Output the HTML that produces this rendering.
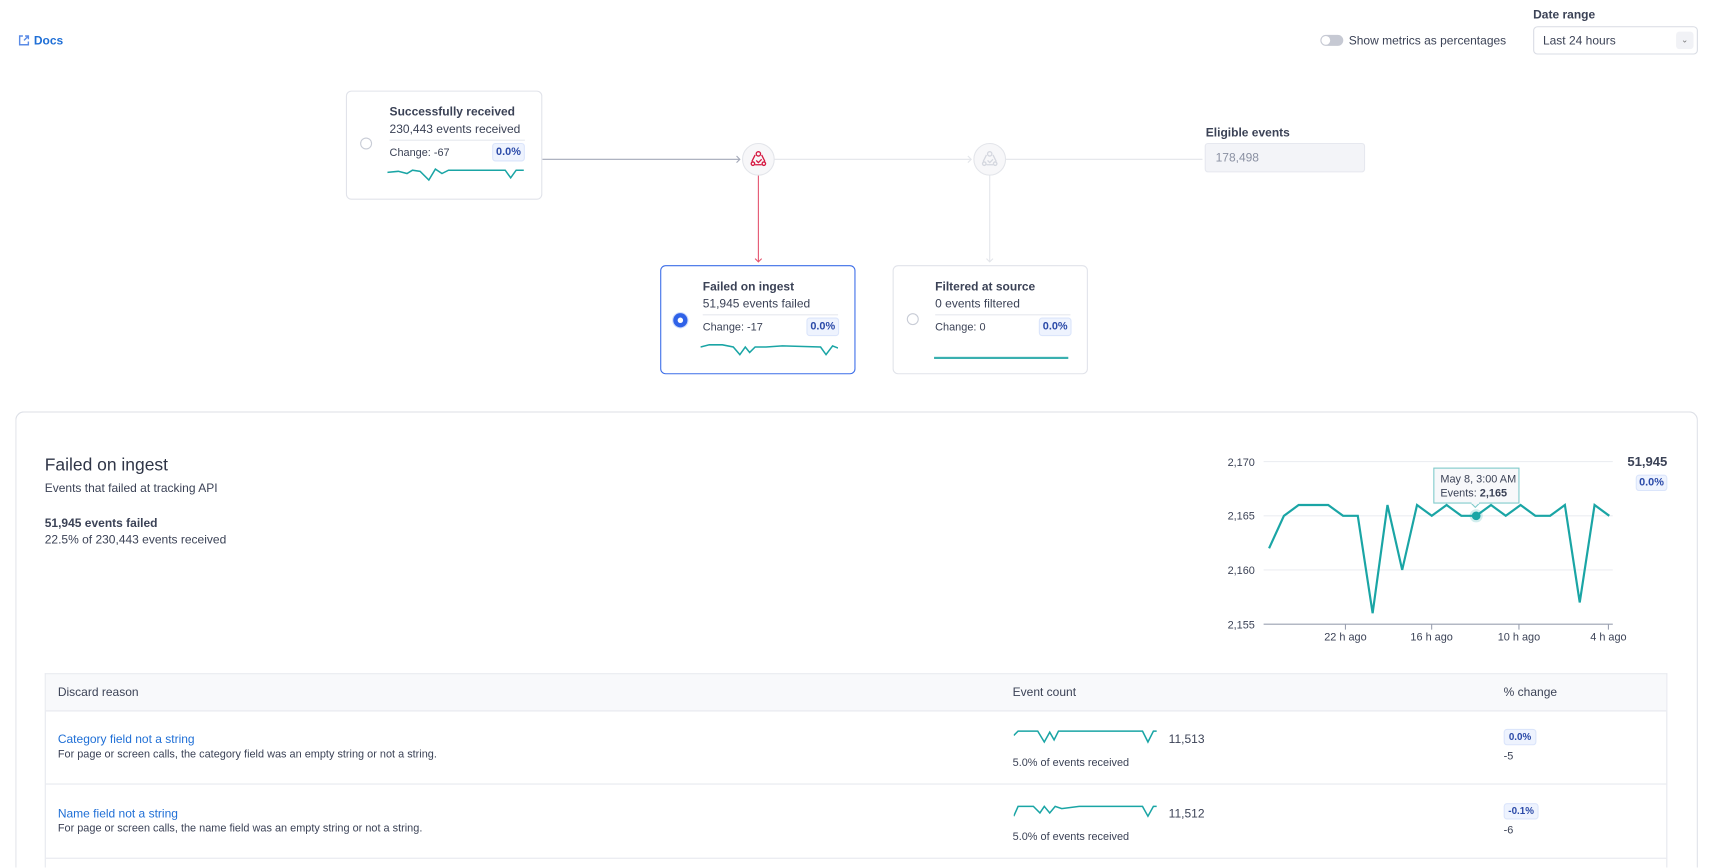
<!DOCTYPE html>
<html><head><meta charset="utf-8"><style>
html,body{margin:0;padding:0;background:#fff;overflow:hidden;width:1711px;height:868px}
#clip{position:relative;width:1711px;height:868px;overflow:hidden}
#w{position:absolute;left:0;top:0;width:1568px;height:795px;overflow:hidden;transform:scale(1.0912);transform-origin:0 0;font-family:"Liberation Sans",sans-serif;color:#3b4256}
.a{position:absolute;white-space:nowrap}
.card{position:absolute;border:1px solid #e1e3ea;border-radius:5px;background:#fff;box-sizing:border-box}
.t{font-size:11px;font-weight:bold;color:#3b4256}
.s{font-size:11px;color:#3b4256}
.badge{position:absolute;border:1px solid #dbe5fb;background:#eef3fe;color:#2b4aa8;border-radius:3px;font-size:10px;font-weight:bold;text-align:center;box-sizing:border-box}
.radio{position:absolute;width:11px;height:11px;border:1px solid #c8ccd6;border-radius:50%;box-sizing:border-box}
</style></head><body><div id="clip"><div id="w">
<svg class="a" style="left:17px;top:32px" width="10" height="10" viewBox="0 0 10 10"><path d="M4 1H1v8h8V6" fill="none" stroke="#5a8be6" stroke-width="1.3"/><path d="M5 5l4-4M6 1h3v3" fill="none" stroke="#5a8be6" stroke-width="1.3"/></svg>
<div class="a" style="left:31px;top:32px;font-size:11px;font-weight:bold;color:#1f6fd6">Docs</div>
<div class="a" style="left:1210px;top:32px;width:21px;height:10px;border-radius:5px;background:#c6c9d3"></div>
<div class="a" style="left:1211px;top:33px;width:8px;height:8px;border-radius:50%;background:#fff"></div>
<div class="a s" style="left:1236px;top:32px">Show metrics as percentages</div>
<div class="a t" style="left:1405px;top:8px">Date range</div>
<div class="a" style="left:1405px;top:24px;width:151px;height:26px;border:1px solid #d9dce4;border-radius:4px;box-sizing:border-box"></div>
<div class="a s" style="left:1414px;top:32px">Last 24 hours</div>
<div class="a" style="left:1536px;top:29px;width:16px;height:16px;background:#f1f2f6;border-radius:3px;font-size:8px;text-align:center;line-height:16px;color:#777">⌄</div>

<svg class="a" style="left:0;top:0" width="1568" height="370">
<line x1="497" y1="146" x2="678" y2="146" stroke="#a3a8b8" stroke-width="1"/>
<path d="M675 143l3 3-3 3" fill="none" stroke="#a3a8b8"/>
<line x1="709" y1="146" x2="890" y2="146" stroke="#e3e5ea"/>
<path d="M887 143l3 3-3 3" fill="none" stroke="#e3e5ea"/>
<line x1="921" y1="146" x2="1102" y2="146" stroke="#e3e5ea"/>
<line x1="695" y1="160" x2="695" y2="240" stroke="#e4536e"/>
<path d="M692 237l3 3 3-3" fill="none" stroke="#e4536e"/>
<line x1="907" y1="160" x2="907" y2="240" stroke="#e3e5ea"/>
<path d="M904 237l3 3 3-3" fill="none" stroke="#e3e5ea"/>
<circle cx="695" cy="146" r="14.5" fill="#f7f7f9" stroke="#e3e5ea"/>
<circle cx="907" cy="146" r="14.5" fill="#f7f7f9" stroke="#e3e5ea"/>
<g fill="none" stroke="#d5163f" stroke-width="1.2"><circle cx="695" cy="141" r="2"/><circle cx="690" cy="150" r="1.6"/><circle cx="700" cy="150" r="1.6"/><path d="M692 142l-3 6M698 142l3 6M692 151h6M693 147l2 2 3-3"/></g>
<g fill="none" stroke="#d4d7df" stroke-width="1.2"><circle cx="907" cy="141" r="2"/><circle cx="902" cy="150" r="1.6"/><circle cx="912" cy="150" r="1.6"/><path d="M904 142l-3 6M910 142l3 6M904 151h6M905 147l2 2 3-3"/></g>
</svg>

<div class="card" style="left:317px;top:83px;width:180px;height:100px"></div>
<div class="radio" style="left:330px;top:126px"></div>
<div class="a t" style="left:357px;top:97px">Successfully received</div>
<div class="a s" style="left:357px;top:113px">230,443 events received</div>
<div class="a" style="left:357px;top:128px;width:124px;border-top:1px solid #e6e8ee"></div>
<div class="a" style="left:357px;top:135px;font-size:10px">Change: -67</div>
<div class="badge" style="left:451px;top:131px;width:30px;height:17px;line-height:15px">0.0%</div>
<svg class="a" style="left:355px;top:150px" width="126" height="18"><polyline points="0,8 10,7 18,9 23,6 30,7 38,15 44,5 50,9 56,6 70,6 108,6 113,13 118,6 125,6" fill="none" stroke="#1aa5a5" stroke-width="1.4"/></svg>

<div class="card" style="left:605px;top:243px;width:179px;height:100px;border-color:#3d6ee8"></div>
<div class="a" style="left:616px;top:286px;width:15px;height:15px;border-radius:50%;background:#cfdcfb"></div>
<div class="a" style="left:617px;top:287px;width:13px;height:13px;border-radius:50%;background:#2f62e8"></div>
<div class="a" style="left:621px;top:291px;width:5px;height:5px;border-radius:50%;background:#fff"></div>
<div class="a t" style="left:644px;top:257px">Failed on ingest</div>
<div class="a s" style="left:644px;top:273px">51,945 events failed</div>
<div class="a" style="left:644px;top:288px;width:124px;border-top:1px solid #e6e8ee"></div>
<div class="a" style="left:644px;top:295px;font-size:10px">Change: -17</div>
<div class="badge" style="left:739px;top:291px;width:30px;height:17px;line-height:15px">0.0%</div>
<svg class="a" style="left:642px;top:312px" width="126" height="16"><polyline points="0,6 8,4 20,4 30,6 36,13 41,6 45,11 50,6 60,6 75,5 110,6 115,13 121,5 126,7" fill="none" stroke="#1aa5a5" stroke-width="1.4"/></svg>

<div class="card" style="left:818px;top:243px;width:179px;height:100px"></div>
<div class="radio" style="left:831px;top:287px"></div>
<div class="a t" style="left:857px;top:257px">Filtered at source</div>
<div class="a s" style="left:857px;top:273px">0 events filtered</div>
<div class="a" style="left:857px;top:288px;width:124px;border-top:1px solid #e6e8ee"></div>
<div class="a" style="left:857px;top:295px;font-size:10px">Change: 0</div>
<div class="badge" style="left:952px;top:291px;width:30px;height:17px;line-height:15px">0.0%</div>
<div class="a" style="left:856px;top:327px;width:123px;height:2px;background:#3ab0b0"></div>

<div class="a t" style="left:1105px;top:116px">Eligible events</div>
<div class="a" style="left:1104px;top:131px;width:147px;height:27px;background:#f3f4f8;border:1px solid #e6e8ef;border-radius:3px;box-sizing:border-box"></div>
<div class="a" style="left:1114px;top:139px;font-size:11px;color:#8a90a2">178,498</div>

<div class="a" style="left:14px;top:377px;width:1542px;height:418px;border:1px solid #dcdfe6;border-bottom:none;border-radius:8px 8px 0 0;box-sizing:border-box"></div>
<div class="a" style="left:41px;top:418px;font-size:16px;color:#2f3547">Failed on ingest</div>
<div class="a s" style="left:41px;top:442px">Events that failed at tracking API</div>
<div class="a t" style="left:41px;top:474px">51,945 events failed</div>
<div class="a s" style="left:41px;top:489px">22.5% of 230,443 events received</div>

<svg class="a" style="left:0;top:0" width="1568" height="600" font-family="Liberation Sans, sans-serif">
<g stroke="#eceef2"><line x1="1158" y1="423" x2="1478" y2="423"/><line x1="1158" y1="472.7" x2="1478" y2="472.7"/><line x1="1158" y1="522.3" x2="1478" y2="522.3"/></g>
<line x1="1158" y1="572" x2="1478" y2="572" stroke="#9aa0b0"/>
<g stroke="#9aa0b0"><line x1="1233" y1="572" x2="1233" y2="577"/><line x1="1312" y1="572" x2="1312" y2="577"/><line x1="1392" y1="572" x2="1392" y2="577"/><line x1="1474" y1="572" x2="1474" y2="577"/></g>
<g font-size="10" fill="#3b4256" text-anchor="end"><text x="1150" y="427">2,170</text><text x="1150" y="476">2,165</text><text x="1150" y="526">2,160</text><text x="1150" y="576">2,155</text></g>
<g font-size="10" fill="#3b4256" text-anchor="middle"><text x="1233" y="587">22 h ago</text><text x="1312" y="587">16 h ago</text><text x="1392" y="587">10 h ago</text><text x="1474" y="587">4 h ago</text></g>
<polyline fill="none" stroke="#1aa5a5" stroke-width="2" stroke-linejoin="miter" points="1163,502.5 1176.6,472.7 1190.1,462.8 1203.7,462.8 1217.2,462.8 1230.8,472.7 1244.3,472.7 1257.9,562 1271.5,462.8 1285,522.3 1298.6,462.8 1312.1,472.7 1325.7,462.8 1339.2,472.7 1352.8,472.7 1366.4,462.8 1379.9,472.7 1393.5,462.8 1407,472.7 1420.6,472.7 1434.1,462.8 1447.7,552.1 1461.3,462.8 1474.8,472.7"/>
<circle cx="1352.8" cy="472.7" r="6" fill="#1aa5a5" fill-opacity="0.2"/>
<circle cx="1352.8" cy="472.7" r="4" fill="#1aa5a5"/>
<rect x="1314" y="429" width="78" height="32" fill="#f7f8fa" stroke="#7fcaca"/>
<path d="M1348 461l4 4 4-4z" fill="#f7f8fa" stroke="#7fcaca"/>
<line x1="1348.5" y1="461" x2="1355.5" y2="461" stroke="#f7f8fa" stroke-width="1.5"/>
<text x="1320" y="442" font-size="10" fill="#3b4256">May 8, 3:00 AM</text>
<text x="1320" y="455" font-size="10" fill="#3b4256">Events: <tspan font-weight="bold">2,165</tspan></text>
<text x="1528" y="427" font-size="12" font-weight="bold" fill="#3b4256" text-anchor="end">51,945</text>
</svg>
<div class="badge" style="left:1499px;top:435px;width:29px;height:15px;line-height:13px">0.0%</div>

<div class="a" style="left:41px;top:617px;width:1487px;height:178px;border:1px solid #e6e8ee;border-bottom:none;box-sizing:border-box"></div>
<div class="a" style="left:42px;top:618px;width:1485px;height:33px;background:#f8f9fb;border-bottom:1px solid #e6e8ee"></div>
<div class="a s" style="left:53px;top:629px">Discard reason</div>
<div class="a s" style="left:928px;top:629px">Event count</div>
<div class="a s" style="left:1378px;top:629px">% change</div>

<div class="a s" style="left:53px;top:672px;color:#1f6fd6">Category field not a string</div>
<div class="a" style="left:53px;top:686px;font-size:10px">For page or screen calls, the category field was an empty string or not a string.</div>
<svg class="a" style="left:929px;top:668px" width="132" height="16"><polyline points="0,6 4,2 14,2 22,2 28,12 33,3 37,10 41,2 60,2 118,2 123,12 128,2 131,2" fill="none" stroke="#1aa5a5" stroke-width="1.4"/></svg>
<div class="a s" style="left:1071px;top:672px">11,513</div>
<div class="a" style="left:928px;top:694px;font-size:10px">5.0% of events received</div>
<div class="badge" style="left:1378px;top:668px;width:30px;height:15px;line-height:13px;font-size:9px">0.0%</div>
<div class="a" style="left:1378px;top:688px;font-size:10px">-5</div>
<div class="a" style="left:42px;top:718px;width:1485px;border-top:1px solid #e6e8ee"></div>

<div class="a s" style="left:53px;top:740px;color:#1f6fd6">Name field not a string</div>
<div class="a" style="left:53px;top:754px;font-size:10px">For page or screen calls, the name field was an empty string or not a string.</div>
<svg class="a" style="left:929px;top:736px" width="132" height="16"><polyline points="0,12 4,3 12,3 18,3 24,9 28,3 33,9 38,3 44,5 60,3 118,3 123,12 128,3 131,3" fill="none" stroke="#1aa5a5" stroke-width="1.4"/></svg>
<div class="a s" style="left:1071px;top:740px">11,512</div>
<div class="a" style="left:928px;top:762px;font-size:10px">5.0% of events received</div>
<div class="badge" style="left:1378px;top:736px;width:32px;height:15px;line-height:13px;font-size:9px">-0.1%</div>
<div class="a" style="left:1378px;top:756px;font-size:10px">-6</div>
<div class="a" style="left:42px;top:786px;width:1485px;border-top:1px solid #e6e8ee"></div>
</div></div></body></html>
